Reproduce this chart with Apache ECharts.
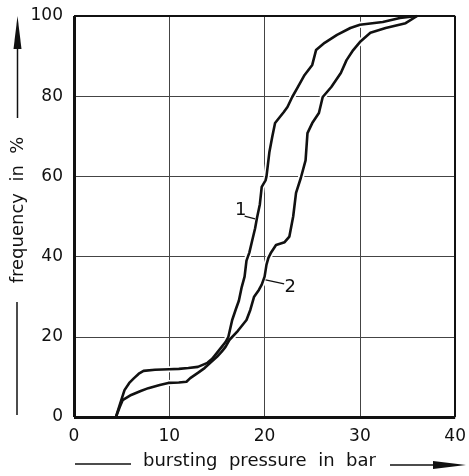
<!DOCTYPE html>
<html>
<head>
<meta charset="utf-8">
<script src="https://cdn.jsdelivr.net/npm/echarts@6/dist/echarts.min.js"></script>
<style>
  html, body { margin: 0; padding: 0; background: #fff; }
  #chart { width: 469px; height: 476px; }
</style>
</head>
<body>
<div id="chart"></div>
<script>
// Cumulative frequency of bursting pressure, two test series
const xTicks = [0, 10, 20, 30, 40];
const yTicks = [0, 20, 40, 60, 80, 100];

// series 1: [pressure in bar, frequency in %]
const curve1 = [
  [4.4, 0], [4.8, 3], [5.3, 6.7], [5.8, 8.5], [6.3, 9.7], [6.8, 10.8], [7.3, 11.5],
  [8.5, 11.8], [10, 11.9], [11, 12], [12, 12.2], [13, 12.5], [13.5, 13], [14, 13.5],
  [14.5, 14.5], [15, 16], [15.5, 17.5], [15.9, 18.7], [16.2, 20], [16.6, 24.2],
  [17, 27], [17.3, 29], [17.6, 32.4], [17.9, 35], [18.1, 39], [18.4, 41], [18.7, 44],
  [19, 47], [19.2, 49.6], [19.5, 53], [19.7, 57.4], [20.1, 59], [20.2, 60], [20.3, 62],
  [20.5, 66], [20.8, 69.8], [21.1, 73.3], [21.6, 74.8], [22, 76], [22.4, 77.3],
  [22.9, 79.8], [23.5, 82.3], [24.2, 85.3], [25, 87.8], [25.4, 91.5], [26.3, 93.3],
  [27.6, 95.3], [29, 97], [30, 97.8], [32.4, 98.5], [34.2, 99.5], [36, 100]
];

// series 2: [pressure in bar, frequency in %]
const curve2 = [
  [4.4, 0], [4.8, 2.5], [5.1, 4.2], [6, 5.5], [7, 6.5], [7.8, 7.2], [9, 8], [9.9, 8.5],
  [11, 8.6], [11.8, 8.8], [12.2, 9.7], [13, 11], [13.7, 12.2], [14.3, 13.5], [15, 15],
  [15.5, 16.3], [15.9, 17.5], [16.3, 19.2], [17.2, 21.5], [18.1, 24.2], [18.5, 26.7],
  [18.9, 30], [19.4, 31.7], [19.7, 33], [20, 35], [20.2, 38], [20.4, 39.7], [20.7, 41.1],
  [21.2, 42.9], [22.1, 43.6], [22.6, 45], [23, 50], [23.3, 55.9], [23.8, 59.6],
  [24.3, 64], [24.5, 70.8], [25, 73.3], [25.7, 75.8], [26.1, 79.8], [27, 82.3],
  [28, 85.8], [28.6, 89], [29.3, 91.5], [30, 93.5], [31.1, 95.8], [32.7, 97],
  [34.8, 98.2], [36, 100]
];

// curve labels: text, label position, leader line start and end (data units)
const curveLabels = [
  { text: '1', at: [17.5, 51.6], from: [17.9, 50.1], to: [19.0, 49.4] },
  { text: '2', at: [22.7, 32.4], from: [20.1, 34.2], to: [22.05, 33.2] }
];

const FONT = 'DejaVu Sans';
const chart = echarts.init(document.getElementById('chart'), null, { renderer: 'canvas' });

// white halo under a curve, breaking the grid lines around it
function haloSeries(data) {
  return { type: 'line', data: data, showSymbol: false, silent: true, z: 3,
    lineStyle: { color: '#fff', width: 6 }, animation: false };
}
function curveSeries(data) {
  return { type: 'line', data: data, showSymbol: false, silent: true, z: 6,
    lineStyle: { color: '#111', width: 2.6, join: 'round' }, animation: false };
}
function frameSeries(segments, z) {
  return { type: 'line', data: [], silent: true, z: z,
    markLine: { silent: true, symbol: 'none', animation: false, label: { show: false },
      lineStyle: { color: '#111', type: 'solid' }, data: segments } };
}

chart.setOption({
  backgroundColor: '#fff',
  animation: false,
  grid: { left: 74, top: 16, right: 7, bottom: 59, show: false },
  xAxis: {
    type: 'value', min: xTicks[0], max: xTicks[xTicks.length - 1], interval: 10,
    axisLine: { show: false },
    axisTick: { show: false },
    axisLabel: { color: '#111', fontFamily: FONT, fontSize: 17, margin: 11,
      formatter: v => xTicks.includes(v) ? String(v) : '' },
    splitLine: { show: true, lineStyle: { color: '#444', width: 1 } }
  },
  yAxis: {
    type: 'value', min: yTicks[0], max: yTicks[yTicks.length - 1], interval: 20,
    axisLine: { show: false },
    axisTick: { show: false },
    axisLabel: { color: '#111', fontFamily: FONT, fontSize: 17, margin: 11,
      formatter: v => yTicks.includes(v) ? String(v) : '' },
    splitLine: { show: true, lineStyle: { color: '#444', width: 1 } }
  },
  series: [
    haloSeries(curve1),
    haloSeries(curve2),
    curveSeries(curve1),
    curveSeries(curve2),
    // top edge sits under the halos, the other edges above them
    frameSeries([
      [{ coord: [0, 100], lineStyle: { width: 2 } }, { coord: [40, 100] }]
    ], 2),
    frameSeries([
      [{ coord: [0, 0], lineStyle: { width: 3 } }, { coord: [40, 0] }],
      [{ coord: [0, 0], lineStyle: { width: 3 } }, { coord: [0, 100] }],
      [{ coord: [40, 0], lineStyle: { width: 2 } }, { coord: [40, 100] }]
    ], 5)
  ]
});

// axis titles with arrows, and the curve labels
function buildGraphics() {
  const g = [];
  const black = '#111';
  const font = '18px "' + FONT + '"';
  // x-axis title
  g.push({ type: 'text', left: 143, top: 452,
    style: { text: 'bursting  pressure  in  bar', font: font, fill: black } });
  g.push({ type: 'line', shape: { x1: 75, y1: 464, x2: 131, y2: 464 },
    style: { stroke: black, lineWidth: 1.5 } });
  g.push({ type: 'line', shape: { x1: 390, y1: 465, x2: 440, y2: 465 },
    style: { stroke: black, lineWidth: 1.5 } });
  g.push({ type: 'polygon', shape: { points: [[433, 461], [466, 465], [433, 469]] },
    style: { fill: black } });
  // y-axis title
  g.push({ type: 'text', x: 18, y: 210, rotation: Math.PI / 2,
    style: { text: 'frequency  in  %', font: font, fill: black,
      align: 'center', verticalAlign: 'middle' } });
  g.push({ type: 'line', shape: { x1: 17, y1: 302, x2: 17, y2: 415 },
    style: { stroke: black, lineWidth: 1.5 } });
  g.push({ type: 'line', shape: { x1: 17.5, y1: 118, x2: 17.5, y2: 45 },
    style: { stroke: black, lineWidth: 1.5 } });
  g.push({ type: 'polygon', shape: { points: [[13.5, 49], [17.5, 16], [21.5, 49]] },
    style: { fill: black } });
  // curve labels
  curveLabels.forEach(l => {
    const p = chart.convertToPixel({ gridIndex: 0 }, l.at);
    const a = chart.convertToPixel({ gridIndex: 0 }, l.from);
    const b = chart.convertToPixel({ gridIndex: 0 }, l.to);
    g.push({ type: 'text', x: p[0], y: p[1], z: 10,
      style: { text: l.text, font: font, fill: black,
        align: 'center', verticalAlign: 'middle' } });
    g.push({ type: 'line', z: 10, shape: { x1: a[0], y1: a[1], x2: b[0], y2: b[1] },
      style: { stroke: black, lineWidth: 1.2 } });
  });
  return g;
}
chart.setOption({ graphic: buildGraphics() });
</script>
</body>
</html>
